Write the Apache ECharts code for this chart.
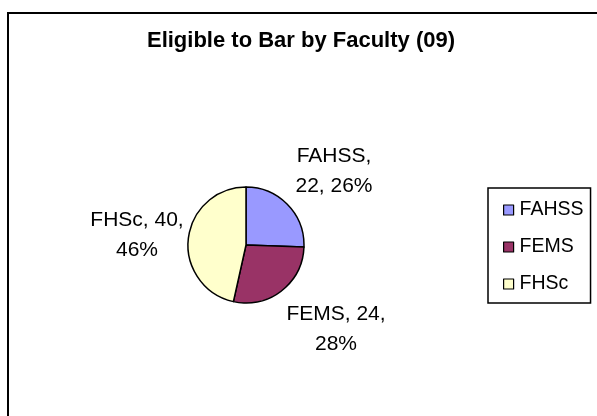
<!DOCTYPE html>
<html>
<head>
<meta charset="utf-8">
<script src="https://cdn.jsdelivr.net/npm/echarts@6/dist/echarts.min.js"></script>
<style>
  html, body { margin: 0; padding: 0; background: #fff; }
  #main { width: 597px; height: 416px; }
</style>
</head>
<body>
<div id="main"></div>
<script>
var faculties = ['FAHSS', 'FEMS', 'FHSc'];
var eligible = [22, 24, 40];
var sliceColors = ['#9999FF', '#993366', '#FFFFCC'];

// where Excel put each data label (centre of the text block)
var labelSpots = [[334, 171], [336, 329], [137, 235]];

var chartDom = document.getElementById('main');
var myChart = echarts.init(chartDom);
var option;

var pieData = faculties.map(function (name, i) {
  return { name: name, value: eligible[i], itemStyle: { color: sliceColors[i] } };
});

option = {
  backgroundColor: '#fff',
  animation: false,
  textStyle: { fontFamily: 'Liberation Sans, Arial, sans-serif', color: '#000' },
  title: {
    text: 'Eligible to Bar by Faculty (09)',
    left: 301,
    top: 30,
    padding: 0,
    textAlign: 'center',
    textStyle: { fontSize: 22, fontWeight: 'bold', color: '#000', fontFamily: 'Liberation Sans, Arial, sans-serif' }
  },
  graphic: [{
    type: 'rect',
    shape: { x: 8, y: 13, width: 700, height: 500 },
    style: { fill: 'none', stroke: '#000', lineWidth: 2 },
    silent: true
  }],
  legend: {
    orient: 'vertical',
    left: 488,
    top: 188,
    data: faculties,
    icon: 'rect',
    itemWidth: 10,
    itemHeight: 10,
    itemGap: 17,
    padding: [12, 7, 9, 15],
    borderColor: '#000',
    borderWidth: 1.5,
    itemStyle: { borderColor: '#000', borderWidth: 1.2 },
    textStyle: { fontSize: 19.5, lineHeight: 20, color: '#000', padding: [0, 0, 0, 1] }
  },
  series: [{
    type: 'pie',
    center: [246, 245],
    radius: 58,
    startAngle: 90,
    clockwise: true,
    percentPrecision: 0,
    avoidLabelOverlap: false,
    data: pieData,
    itemStyle: { borderColor: '#000', borderWidth: 1.5 },
    emphasis: { disabled: true },
    labelLine: { show: false },
    label: {
      show: true,
      position: 'outside',
      fontSize: 21,
      lineHeight: 30,
      color: '#000',
      align: 'center',
      formatter: function (p) {
        if (p.dataIndex === 0) return p.name + ',\n' + p.value + ', ' + p.percent + '%';
        return p.name + ', ' + p.value + ',\n' + p.percent + '%';
      }
    },
    labelLayout: function (params) {
      var s = labelSpots[params.dataIndex];
      return { x: s[0], y: s[1], align: 'center', verticalAlign: 'middle' };
    }
  }]
};

option && myChart.setOption(option);
</script>
</body>
</html>
